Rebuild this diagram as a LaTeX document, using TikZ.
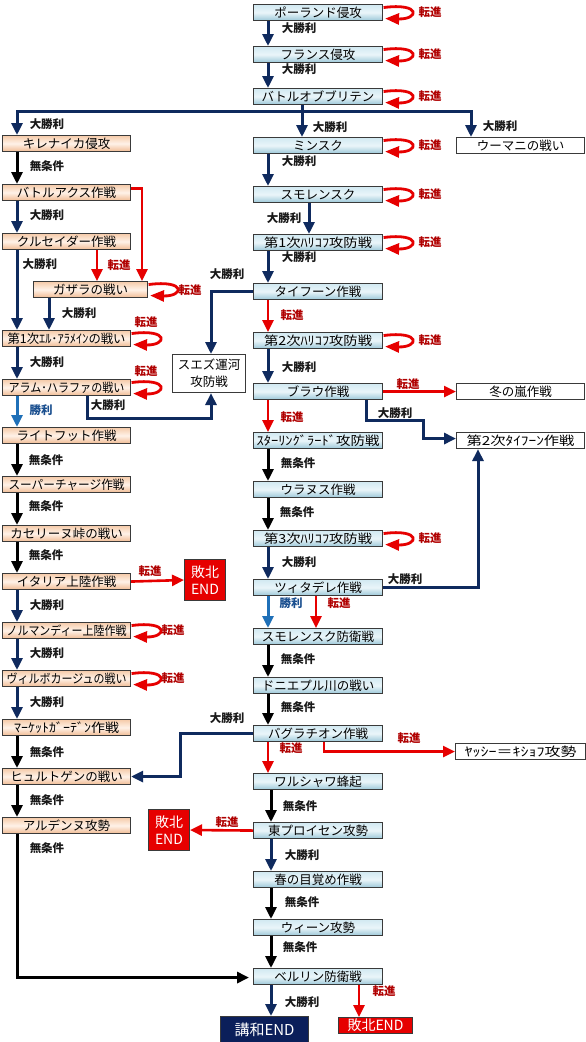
\documentclass[tikz,border=0pt]{standalone}
\usepackage{fontspec}
\setmainfont{Noto Sans CJK JP}
\usetikzlibrary{arrows.meta,calc}
\definecolor{nv}{HTML}{0F2A5E}
\definecolor{rd}{HTML}{E60000}
\definecolor{drd}{HTML}{B00000}
\definecolor{lbl}{HTML}{1F70B8}
\definecolor{lbt}{HTML}{1A4F8F}
\definecolor{bord}{HTML}{3A3A3A}
\definecolor{btop}{HTML}{D2E9F2}
\definecolor{bmid}{HTML}{EAF5F9}
\definecolor{bbot}{HTML}{9CC8D9}
\definecolor{ptop}{HTML}{F5CBAA}
\definecolor{pmid}{HTML}{FFF2E8}
\definecolor{pbot}{HTML}{F0BB93}
\definecolor{navyend}{HTML}{0B1F5A}
\newsavebox\fitbox
\newcommand\fitt[2]{\sbox\fitbox{#2}\ifdim\wd\fitbox>#1\resizebox{#1}{\height}{\usebox\fitbox}\else\usebox\fitbox\fi}
\newcommand\sw[2]{\resizebox{#1}{\height}{#2}}
\tikzset{
  bx/.style={draw=bord, line width=1.1pt, inner sep=0pt, anchor=north west,
    minimum height=16pt, font=\fontsize{12.5}{13}\selectfont},
  bb/.style={bx, minimum width=129pt, top color=btop, bottom color=bbot, middle color=bmid},
  pb/.style={bx, minimum width=128pt, top color=ptop, bottom color=pbot, middle color=pmid},
  wb/.style={bx, minimum width=128pt, fill=white},
  endbox/.style={draw=bord, line width=1pt, inner sep=0pt, anchor=north west,
    text=white, align=center},
  lab/.style={font=\bfseries\fontsize{11.5}{12}\selectfont, inner sep=0pt, text=black!90},
  rlab/.style={lab, text=drd},
  blab/.style={lab, text=lbt},
  tip/.style={-{Triangle[length=12pt,width=11pt]}},
  nva/.style={draw=nv, line width=3pt, tip},
  nvl/.style={draw=nv, line width=3pt},
  bka/.style={draw=black, line width=3pt, tip},
  rda/.style={draw=rd, line width=2.6pt, tip},
  lba/.style={draw=lbl, line width=3pt, tip},
  lp/.style={draw=rd, line width=2.8pt, -{Triangle[length=14pt,width=11pt]}}
}
\newcommand\selfloop[1]{\draw[lp] ($(#1.east)+(0.5,-5)$) .. controls +(38,-5) and +(34,1) .. ($(#1.east)+(2,6)$);}
\begin{document}
\begin{tikzpicture}[x=1pt,y=-1pt]
\useasboundingbox (0,0) rectangle (586,1042);
\fill[white] (0,0) rectangle (586,1042);
% helper x positions
\coordinate (xc) at (268,0);
\coordinate (xd) at (271,0);
\coordinate (xL) at (17,0);
\coordinate (xU) at (471,0);
\coordinate (xs) at (309,0);
\coordinate (xb) at (366,0);
\coordinate (xT) at (478,0);
\coordinate (xz) at (316,0);
\coordinate (xy) at (324,0);
\coordinate (xH) at (180,0);
\coordinate (xe) at (359,0);
\coordinate (xg) at (142,0);
\coordinate (xk) at (97,0);
\coordinate (xm) at (49,0);
\coordinate (xa) at (87,0);
\coordinate (xsz) at (211,0);
\coordinate (j) at (302,111);
\coordinate (bend) at (423,420);
% center column
\node[bb] (pol) at (253,4) {\fitt{123pt}{ポーランド侵攻}};
\node[bb] (fra) at (253,46) {\fitt{123pt}{フランス侵攻}};
\node[bb] (bob) at (253,88) {\fitt{123pt}{バトルオブブリテン}};
\node[bb] (min) at (253,137) {\fitt{123pt}{ミンスク}};
\node[bb] (smo) at (253,186) {\fitt{123pt}{スモレンスク}};
\node[bb] (kh1) at (253,234) {\sw{108pt}{第1次ﾊﾘｺﾌ攻防戦}};
\node[bb] (typ) at (253,283) {\fitt{123pt}{タイフーン作戦}};
\node[bb] (kh2) at (253,332) {\sw{108pt}{第2次ﾊﾘｺﾌ攻防戦}};
\node[bb] (bla) at (253,383) {\fitt{123pt}{ブラウ作戦}};
\node[bb] (stl) at (253,432) {\sw{123pt}{ｽﾀｰﾘﾝｸﾞﾗｰﾄﾞ攻防戦}};
\node[bb] (ura) at (253,481) {\fitt{123pt}{ウラヌス作戦}};
\node[bb] (kh3) at (253,530) {\sw{108pt}{第3次ﾊﾘｺﾌ攻防戦}};
\node[bb] (zit) at (253,579) {\fitt{123pt}{ツィタデレ作戦}};
\node[bb] (smd) at (253,628) {\fitt{125pt}{スモレンスク防衛戦}};
\node[bb] (dni) at (253,677) {\fitt{125pt}{ドニエプル川の戦い}};
\node[bb] (bag) at (253,725) {\fitt{123pt}{バグラチオン作戦}};
\node[bb] (war) at (253,773) {\fitt{123pt}{ワルシャワ蜂起}};
\node[bb] (epr) at (253,822) {\fitt{123pt}{東プロイセン攻勢}};
\node[bb] (spr) at (253,871) {\fitt{123pt}{春の目覚め作戦}};
\node[bb] (vie) at (253,919) {\fitt{123pt}{ウィーン攻勢}};
\node[bb] (ber) at (253,968) {\fitt{123pt}{ベルリン防衛戦}};
% left column
\node[pb] (kir) at (2,135) {\fitt{122pt}{キレナイカ侵攻}};
\node[pb] (bax) at (2,184) {\fitt{122pt}{バトルアクス作戦}};
\node[pb] (cru) at (2,233) {\fitt{122pt}{クルセイダー作戦}};
\node[pb, minimum width=114pt] (gaz) at (33,281) {\fitt{108pt}{ガザラの戦い}};
\node[pb] (ea1) at (2,330) {\sw{118pt}{第1次ｴﾙ･ｱﾗﾒｲﾝの戦い}};
\node[pb] (ala) at (2,379) {\fitt{116pt}{アラム･ハラファの戦い}};
\node[pb] (lig) at (2,427) {\fitt{122pt}{ライトフット作戦}};
\node[pb] (sup) at (2,476) {\fitt{116pt}{スーパーチャージ作戦}};
\node[pb] (kas) at (2,525) {\fitt{122pt}{カセリーヌ峠の戦い}};
\node[pb] (ita) at (2,573) {\fitt{116pt}{イタリア上陸作戦}};
\node[pb] (nor) at (2,622) {\fitt{120pt}{ノルマンディー上陸作戦}};
\node[pb] (vil) at (2,670) {\fitt{120pt}{ヴィルボカージュの戦い}};
\node[pb] (mar) at (2,719) {\sw{105pt}{ﾏｰｹｯﾄｶﾞｰﾃﾞﾝ作戦}};
\node[pb] (hur) at (2,768) {\fitt{122pt}{ヒュルトゲンの戦い}};
\node[pb] (ard) at (2,817) {\fitt{122pt}{アルデンヌ攻勢}};
% white boxes
\node[wb] (uma) at (456,137) {\fitt{118pt}{ウーマニの戦い}};
\node[wb] (fuy) at (456,383) {\fitt{118pt}{冬の嵐作戦}};
\node[wb] (ty2) at (456,432) {\sw{108pt}{第2次ﾀｲﾌｰﾝ作戦}};
\node[wb, minimum width=130pt] (yas) at (455,743) {\sw{112pt}{ﾔｯｼｰ＝ｷｼｮﾌ攻勢}};
\node[wb, minimum width=73pt, minimum height=38pt, align=center, font=\fontsize{12.5}{17}\selectfont] (suez) at (172,354) {スエズ運河\\攻防戦};
% end boxes
\node[endbox, fill=rd, minimum width=41pt, minimum height=41pt, font=\fontsize{14}{17}\selectfont] (lose1) at (184,559) {敗北\\END};
\node[endbox, fill=rd, minimum width=41pt, minimum height=41pt, font=\fontsize{14}{17}\selectfont] (lose2) at (148,809) {敗北\\END};
\node[endbox, fill=navyend, minimum width=88pt, minimum height=27pt, font=\fontsize{15}{16}\selectfont] (peace) at (220,1016) {講和END};
\node[endbox, fill=rd, minimum width=74pt, minimum height=16pt, font=\fontsize{14}{15}\selectfont] (lose3) at (338,1017) {敗北END};
% connectors: center
\draw[nva] (pol.south -| xc) -- (fra.north -| xc);
\draw[nva] (fra.south -| xc) -- (bob.north -| xc);
\draw[nvl] (bob.south -| j) -- (j);
\draw[nva] (j) -- (min.north -| j);
\draw[nva] (j) -| (kir.north -| xL);
\draw[nva] (j) -| (uma.north -| xU);
\draw[nva] (min.south -| xc) -- (smo.north -| xc);
\draw[nva] (smo.south -| xs) -- (kh1.north -| xs);
\draw[nva] (kh1.south -| xc) -- (typ.north -| xc);
\draw[rda] (typ.south -| xc) -- (kh2.north -| xc);
\draw[nva] (kh2.south -| xc) -- (bla.north -| xc);
\draw[rda] (bla.south -| xc) -- (stl.north -| xc);
\draw[rda] (bla.east) -- (fuy.west);
\draw[nva] (bla.south -| xb) |- (bend) |- ($(ty2.west)+(0,-2)$);
\draw[bka] (stl.south -| xc) -- (ura.north -| xc);
\draw[bka] (ura.south -| xc) -- (kh3.north -| xc);
\draw[nva] (kh3.south -| xc) -- (zit.north -| xc);
\draw[nva] (zit.east) -| (ty2.south -| xT);
\draw[lba] (zit.south -| xc) -- (smd.north -| xc);
\draw[rda] (zit.south -| xz) -- (smd.north -| xz);
\draw[bka] (smd.south -| xc) -- (dni.north -| xc);
\draw[bka] (dni.south -| xc) -- (bag.north -| xc);
\draw[rda] (bag.south -| xc) -- (war.north -| xc);
\draw[rda] (bag.south -| xy) |- (yas.west);
\draw[nva] (bag.west) -| (hur.east -| xH) -- (hur.east);
\draw[bka] (war.south -| xd) -- (epr.north -| xd);
\draw[rda] (epr.west) -- (lose2.east);
\draw[nva] (epr.south -| xd) -- (spr.north -| xd);
\draw[bka] (spr.south -| xd) -- (vie.north -| xd);
\draw[bka] (vie.south -| xd) -- (ber.north -| xd);
\draw[nva] (ber.south -| xd) -- (peace.north -| xd);
\draw[rda] (ber.south -| xe) -- (lose3.north -| xe);
\draw[bka] (ard.south -| xL) |- ($(ber.west)+(-4,1)$);
% connectors: left
\draw[bka] (kir.south -| xL) -- (bax.north -| xL);
\draw[nva] (bax.south -| xL) -- (cru.north -| xL);
\draw[rda] ($(bax.east)+(0,-4)$) -| (gaz.north -| xg);
\draw[rda] (cru.south -| xk) -- (gaz.north -| xk);
\draw[nva] (cru.south -| xL) -- (ea1.north -| xL);
\draw[nva] (gaz.south -| xm) -- (ea1.north -| xm);
\draw[nva] (ea1.south -| xL) -- (ala.north -| xL);
\draw[lba] (ala.south -| xL) -- (lig.north -| xL);
\draw[nva] (ala.south -| xa) |- ($(suez.south -| xsz)+(0,25)$) -- (suez.south -| xsz);
\draw[nva] (typ.west) -| (suez.north -| xsz);
\draw[bka] (lig.south -| xL) -- (sup.north -| xL);
\draw[bka] (sup.south -| xL) -- (kas.north -| xL);
\draw[bka] (kas.south -| xL) -- (ita.north -| xL);
\draw[rda] (ita.east) -- (lose1.west);
\draw[nva] (ita.south -| xL) -- (nor.north -| xL);
\draw[nva] (nor.south -| xL) -- (vil.north -| xL);
\draw[nva] (vil.south -| xL) -- (mar.north -| xL);
\draw[bka] (mar.south -| xL) -- (hur.north -| xL);
\draw[bka] (hur.south -| xL) -- (ard.north -| xL);
% self loops
\foreach \b in {pol,fra,bob,min,smo,kh1,kh2,kh3,gaz,ea1,ala,nor,vil} {\selfloop{\b}}
% loop labels
\node[rlab] (t1) at (430,12) {転進};
\node[rlab] (t2) at (430,54) {転進};
\node[rlab] (t3) at (430,96) {転進};
\node[rlab] (t4) at (430,145) {転進};
\node[rlab] (t5) at (430,194) {転進};
\node[rlab] (t6) at (430,242) {転進};
\node[rlab] (t7) at (430,340) {転進};
\node[rlab] (t8) at (430,538) {転進};
\node[rlab] (t9) at (190,290) {転進};
\node[rlab] (t10) at (146,322) {転進};
\node[rlab] (t11) at (146,371) {転進};
\node[rlab] (t12) at (173,630) {転進};
\node[rlab] (t13) at (173,678) {転進};
% arrow labels center
\node[lab] (a1) at (299,28) {大勝利};
\node[lab] (a2) at (299,69) {大勝利};
\node[lab] (a3) at (330,127) {大勝利};
\node[lab] (a4) at (47,124) {大勝利};
\node[lab] (a5) at (500,126) {大勝利};
\node[lab] (a6) at (299,161) {大勝利};
\node[lab] (a7) at (284,218) {大勝利};
\node[lab] (a8) at (299,257) {大勝利};
\node[rlab] (a9) at (292,315) {転進};
\node[lab] (a10) at (299,367) {大勝利};
\node[rlab] (a11) at (292,417) {転進};
\node[rlab] (a12) at (408,384) {転進};
\node[lab] (a13) at (395,413) {大勝利};
\node[lab] (a14) at (298,463) {無条件};
\node[lab] (a15) at (297,512) {無条件};
\node[lab] (a16) at (299,562) {大勝利};
\node[lab] (a17) at (405,579) {大勝利};
\node[blab] (a18) at (291,603) {勝利};
\node[rlab] (a19) at (339,603) {転進};
\node[lab] (a20) at (298,659) {無条件};
\node[lab] (a21) at (298,707) {無条件};
\node[rlab] (a22) at (291,748) {転進};
\node[rlab] (a23) at (409,738) {転進};
\node[lab] (a24) at (227,718) {大勝利};
\node[lab] (a25) at (300,806) {無条件};
\node[rlab] (a26) at (227,822) {転進};
\node[lab] (a27) at (302,855) {大勝利};
\node[lab] (a28) at (302,902) {無条件};
\node[lab] (a29) at (300,947) {無条件};
\node[lab] (a30) at (302,1002) {大勝利};
\node[rlab] (a31) at (384,991) {転進};
% arrow labels left
\node[lab] (b1) at (47,166) {無条件};
\node[lab] (b2) at (47,215) {大勝利};
\node[rlab] (b3) at (119,265) {転進};
\node[lab] (b4) at (40,264) {大勝利};
\node[lab] (b5) at (79,313) {大勝利};
\node[lab] (b6) at (47,362) {大勝利};
\node[blab] (b7) at (41,410) {勝利};
\node[lab] (b8) at (108,405) {大勝利};
\node[lab] (b9) at (227,274) {大勝利};
\node[lab] (b10) at (46,460) {無条件};
\node[lab] (b11) at (46,506) {無条件};
\node[lab] (b12) at (46,555) {無条件};
\node[rlab] (b13) at (150,571) {転進};
\node[lab] (b14) at (47,605) {大勝利};
\node[lab] (b15) at (47,653) {大勝利};
\node[lab] (b16) at (47,702) {大勝利};
\node[lab] (b17) at (47,752) {無条件};
\node[lab] (b18) at (47,800) {無条件};
\node[lab] (b19) at (47,848) {無条件};
\end{tikzpicture}
\end{document}
